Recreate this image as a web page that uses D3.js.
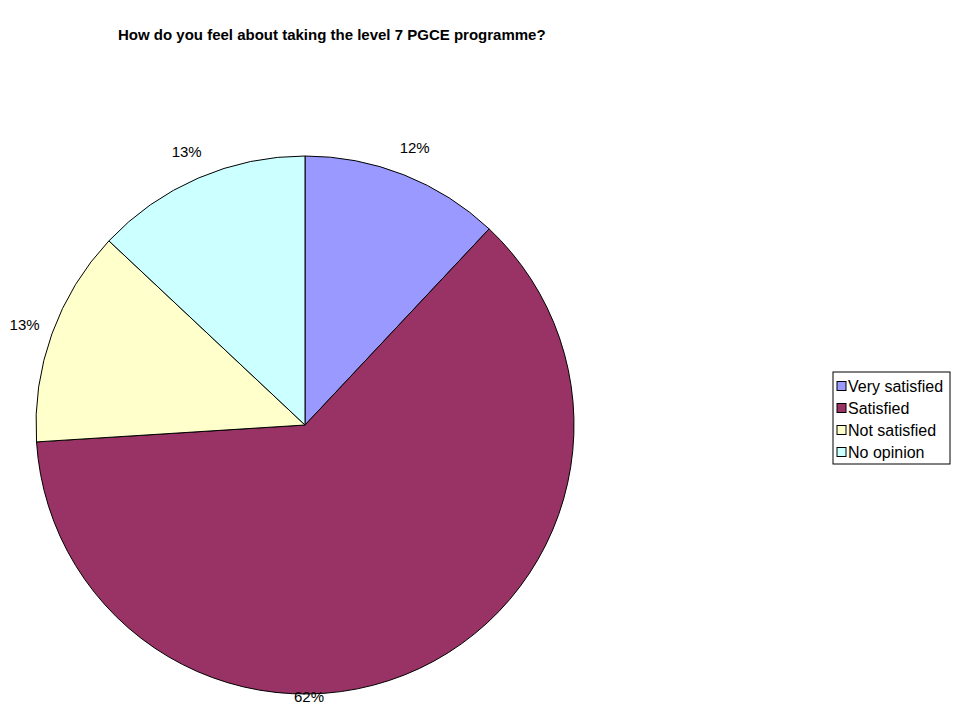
<!DOCTYPE html>
<html>
<head>
<meta charset="utf-8">
<script src="https://cdn.jsdelivr.net/npm/d3@7"></script>
<style>
  html, body { margin: 0; padding: 0; background: #ffffff; }
  svg { display: block; font-family: "Liberation Sans", Arial, sans-serif; }
</style>
</head>
<body>
<svg id="chart" width="966" height="705"></svg>
<script>
// Survey responses (percent of respondents)
const categories = ["Very satisfied", "Satisfied", "Not satisfied", "No opinion"];
const values = [12, 62, 13, 13];
const colors = ["#9999ff", "#993366", "#ffffcc", "#ccffff"];
const title = "How do you feel about taking the level 7 PGCE programme?";

const svg = d3.select("#chart");
const cx = 305, cy = 425, radius = 269;

svg.append("text")
  .attr("x", 118).attr("y", 40)
  .attr("font-size", 15).attr("font-weight", "bold")
  .attr("fill", "#000")
  .text(title);

const data = categories.map((c, i) => ({ category: c, value: values[i], color: colors[i] }));

const pie = d3.pie().value(d => d.value).sort(null);
const arcs = pie(data);
const arc = d3.arc().innerRadius(0).outerRadius(radius);

const g = svg.append("g").attr("transform", `translate(${cx},${cy})`);

g.selectAll("path.slice")
  .data(arcs)
  .join("path")
  .attr("class", "slice")
  .attr("d", arc)
  .attr("fill", d => d.data.color)
  .attr("stroke", "#000")
  .attr("stroke-width", 1);

// Percentage labels outside the pie; the large slice's label sits just below its bottom edge
const labelRadius = 298;
function labelPos(d) {
  const span = d.endAngle - d.startAngle;
  if (span > Math.PI) return [4, radius + 2];
  const a = (d.startAngle + d.endAngle) / 2;
  return [labelRadius * Math.sin(a), -labelRadius * Math.cos(a)];
}
g.selectAll("text.pct")
  .data(arcs)
  .join("text")
  .attr("class", "pct")
  .attr("x", d => labelPos(d)[0])
  .attr("y", d => labelPos(d)[1])
  .attr("text-anchor", "middle")
  .attr("dominant-baseline", "central")
  .attr("font-size", 15)
  .attr("fill", "#000")
  .text(d => d3.format(".0%")(d.data.value / 100));

// Legend
const legend = svg.append("g").attr("transform", "translate(833,372)");
const rowH = 22;
legend.append("rect")
  .attr("x", 0).attr("y", 0)
  .attr("width", 117).attr("height", 92)
  .attr("fill", "#fff").attr("stroke", "#000").attr("stroke-width", 1);

const rows = legend.selectAll("g.row")
  .data(data)
  .join("g")
  .attr("class", "row")
  .attr("transform", (d, i) => `translate(0,${14 + i * rowH})`);

rows.append("rect")
  .attr("x", 4).attr("y", -4.5)
  .attr("width", 9).attr("height", 9)
  .attr("fill", d => d.color)
  .attr("stroke", "#000").attr("stroke-width", 1);

rows.append("text")
  .attr("x", 15).attr("y", 0)
  .attr("dominant-baseline", "central")
  .attr("font-size", 16)
  .attr("fill", "#000")
  .text(d => d.category);
</script>
</body>
</html>
